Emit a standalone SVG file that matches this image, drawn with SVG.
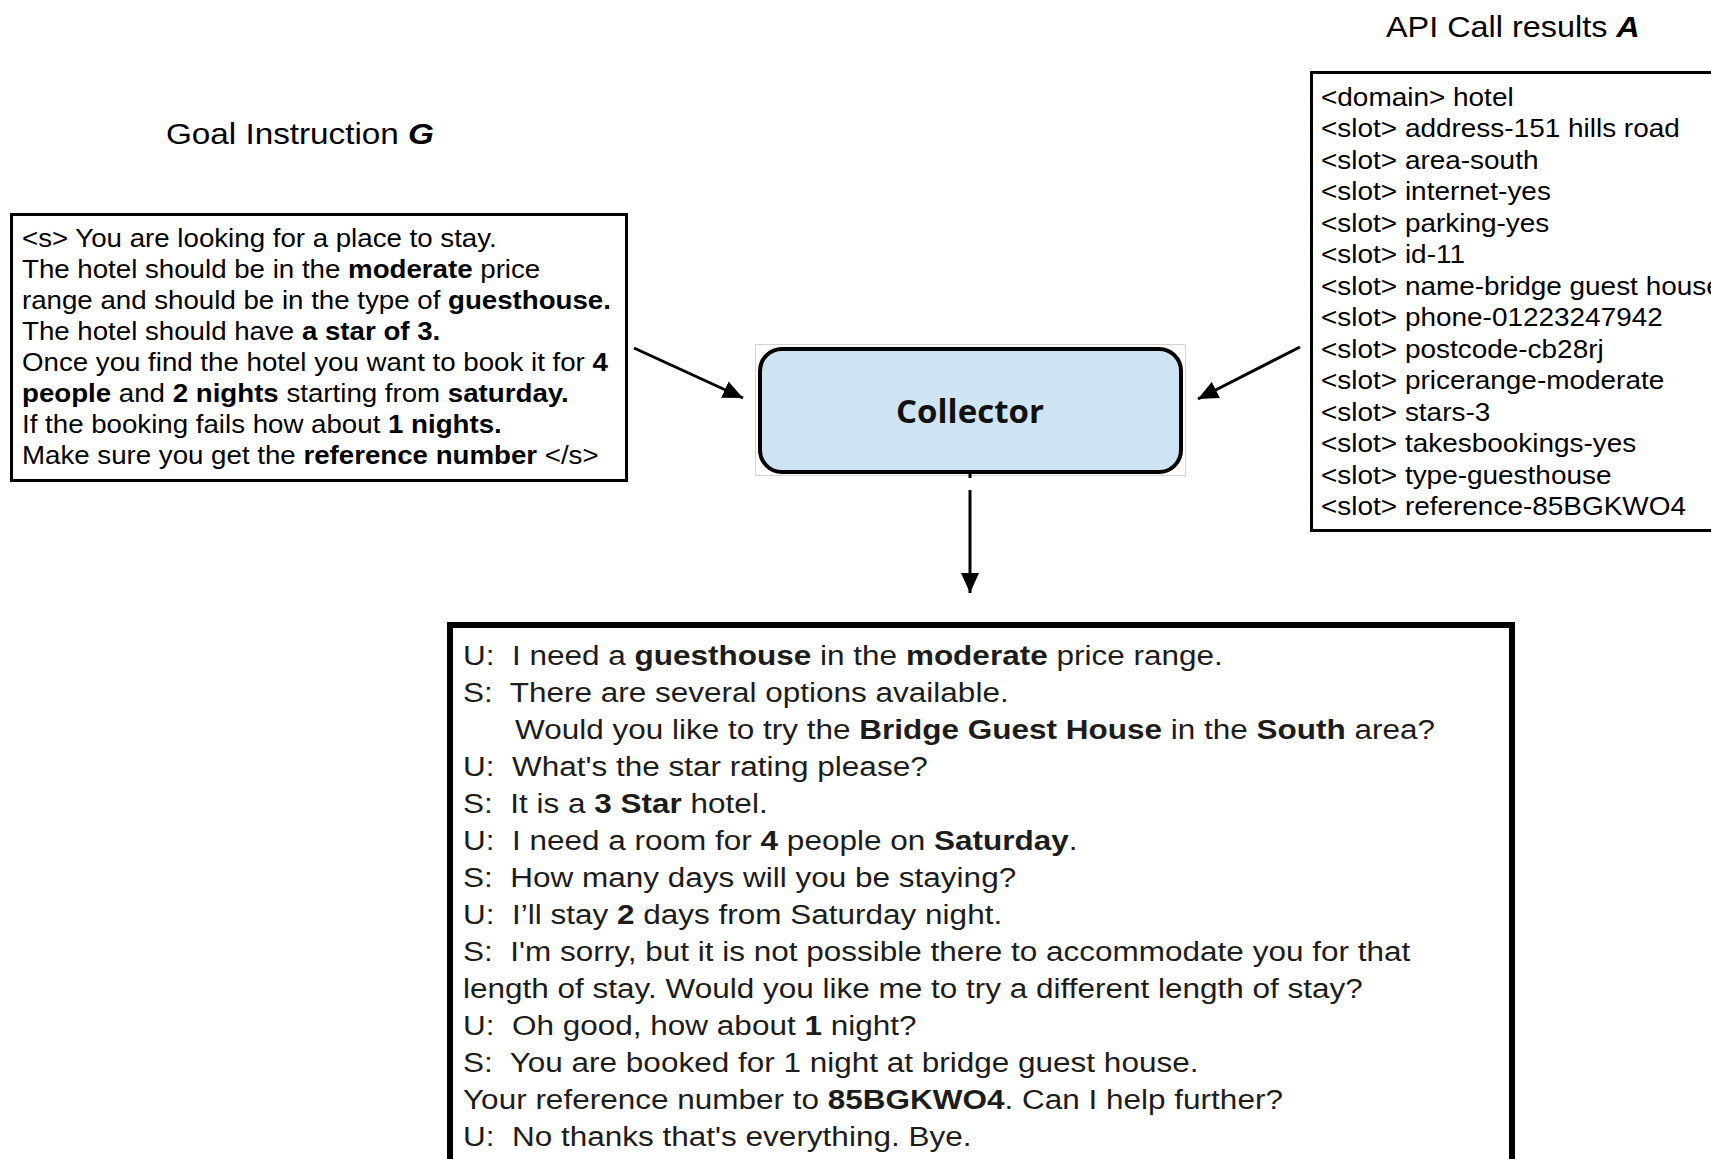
<svg xmlns="http://www.w3.org/2000/svg" width="1711" height="1159" viewBox="0 0 1711 1159">
  <defs>
    <style>
      .sans { font-family: "Liberation Sans", Arial, sans-serif; fill: #000; }
      .b { font-weight: bold; }
      .title { font-size: 29px; }
      .goal { font-size: 25px; }
      .api { font-size: 26px; }
      .dlg { font-size: 28px; fill: #1c1c1c; }
      .box { fill: #fff; stroke: #000; }
      .wire { stroke: #000; stroke-width: 3; fill: none; }
    </style>
    <marker id="head" markerUnits="userSpaceOnUse" markerWidth="22" markerHeight="18" refX="20" refY="9" orient="auto">
      <path d="M0,0 L20,9 L0,18 Z" fill="#000"/>
    </marker>
  </defs>

  <rect width="1711" height="1159" fill="#fff"/>

  <!-- titles -->
  <text class="sans title" transform="translate(166,144) scale(1.147,1)">Goal Instruction <tspan class="b" font-style="italic">G</tspan></text>
  <text class="sans title" transform="translate(1386,37) scale(1.117,1)">API Call results <tspan class="b" font-style="italic">A</tspan></text>

  <!-- goal instruction box -->
  <g id="goal">
    <rect class="box" x="11.5" y="214.5" width="615" height="266" stroke-width="3"/>
    <g class="sans goal" transform="translate(22,0) scale(1.107,1)">
      <text x="0" y="247">&lt;s&gt; You are looking for a place to stay.</text>
      <text x="0" y="278">The hotel should be in the <tspan class="b">moderate</tspan> price</text>
      <text x="0" y="309">range and should be in the type of <tspan class="b">guesthouse.</tspan></text>
      <text x="0" y="340">The hotel should have <tspan class="b">a star of 3.</tspan></text>
      <text x="0" y="371">Once you find the hotel you want to book it for <tspan class="b">4</tspan></text>
      <text x="0" y="402"><tspan class="b">people</tspan> and <tspan class="b">2 nights</tspan> starting from <tspan class="b">saturday.</tspan></text>
      <text x="0" y="433">If the booking fails how about <tspan class="b">1 nights.</tspan></text>
      <text x="0" y="464">Make sure you get the <tspan class="b">reference number</tspan> &lt;/s&gt;</text>
    </g>
  </g>

  <!-- API call results box (runs past the right edge) -->
  <g id="api">
    <rect class="box" x="1311.5" y="72.5" width="420" height="458" stroke-width="3"/>
    <g class="sans api" transform="translate(1321,0) scale(1.075,1)">
      <text x="0" y="106">&lt;domain&gt; hotel</text>
      <text x="0" y="137.5">&lt;slot&gt; address-151 hills road</text>
      <text x="0" y="169">&lt;slot&gt; area-south</text>
      <text x="0" y="200.5">&lt;slot&gt; internet-yes</text>
      <text x="0" y="232">&lt;slot&gt; parking-yes</text>
      <text x="0" y="263.5">&lt;slot&gt; id-11</text>
      <text x="0" y="295">&lt;slot&gt; name-bridge guest house</text>
      <text x="0" y="326.5">&lt;slot&gt; phone-01223247942</text>
      <text x="0" y="358">&lt;slot&gt; postcode-cb28rj</text>
      <text x="0" y="389.5">&lt;slot&gt; pricerange-moderate</text>
      <text x="0" y="421">&lt;slot&gt; stars-3</text>
      <text x="0" y="452.5">&lt;slot&gt; takesbookings-yes</text>
      <text x="0" y="484">&lt;slot&gt; type-guesthouse</text>
      <text x="0" y="515.5">&lt;slot&gt; reference-85BGKWO4</text>
    </g>
  </g>

  <!-- collector node -->
  <g id="collector">
    <rect x="755.5" y="344.5" width="430" height="131" fill="#fff" stroke="#d4d4d4" stroke-width="1"/>
    <rect x="760" y="349" width="421" height="123" rx="22" ry="22" fill="#cfe4f2" stroke="#000" stroke-width="4"/>
    <text x="970" y="423" text-anchor="middle" font-family="'Open Sans', 'Noto Sans', sans-serif" font-weight="bold" font-size="33" fill="#111">Collector</text>
  </g>

  <!-- dialogue box (runs past the bottom edge) -->
  <g id="dialogue">
    <rect class="box" x="450" y="625" width="1062" height="560" stroke-width="6"/>
    <g class="sans dlg" transform="translate(463,0) scale(1.125,1)">
      <text x="0" y="665">U:&#160; I need a <tspan class="b">guesthouse</tspan> in the <tspan class="b">moderate</tspan> price range.</text>
      <text x="0" y="702">S:&#160; There are several options available.</text>
      <text x="46.2" y="739">Would you like to try the <tspan class="b">Bridge Guest House</tspan> in the <tspan class="b">South</tspan> area?</text>
      <text x="0" y="776">U:&#160; What's the star rating please?</text>
      <text x="0" y="813">S:&#160; It is a <tspan class="b">3 Star</tspan> hotel.</text>
      <text x="0" y="850">U:&#160; I need a room for <tspan class="b">4</tspan> people on <tspan class="b">Saturday</tspan>.</text>
      <text x="0" y="887">S:&#160; How many days will you be staying?</text>
      <text x="0" y="924">U:&#160; I’ll stay <tspan class="b">2</tspan> days from Saturday night.</text>
      <text x="0" y="961">S:&#160; I'm sorry, but it is not possible there to accommodate you for that</text>
      <text x="0" y="998">length of stay. Would you like me to try a different length of stay?</text>
      <text x="0" y="1035">U:&#160; Oh good, how about <tspan class="b">1</tspan> night?</text>
      <text x="0" y="1072">S:&#160; You are booked for 1 night at bridge guest house.</text>
      <text x="0" y="1109">Your reference number to <tspan class="b">85BGKWO4</tspan>. Can I help further?</text>
      <text x="0" y="1146">U:&#160; No thanks that's everything. Bye.</text>
    </g>
  </g>

  <!-- connectors -->
  <g id="connectors" class="wire">
    <line x1="634" y1="348" x2="743" y2="398" marker-end="url(#head)"/>
    <line x1="1300" y1="347" x2="1198" y2="399" marker-end="url(#head)"/>
    <line x1="970" y1="473" x2="970" y2="478"/>
    <line x1="970" y1="490" x2="970" y2="593" marker-end="url(#head)"/>
  </g>
</svg>
